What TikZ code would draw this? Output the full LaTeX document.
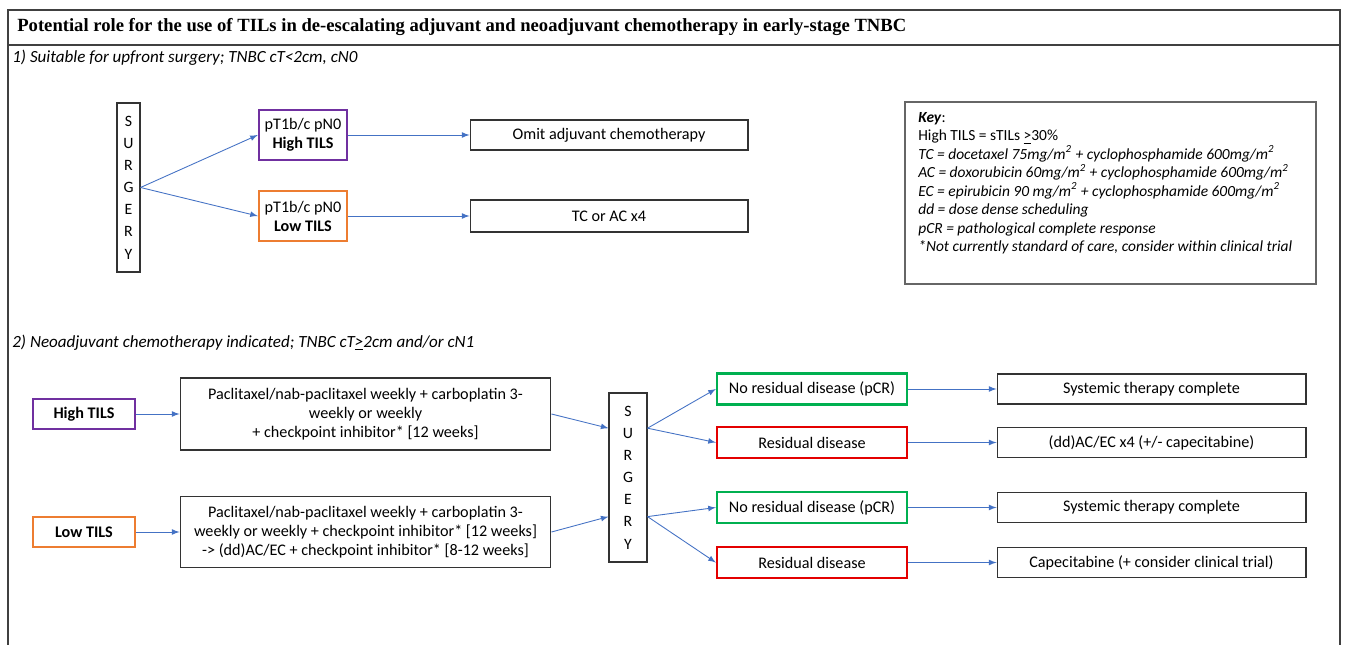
\documentclass[tikz,border=0pt]{standalone}
\usepackage{fontspec}
\setmainfont{Carlito}
\newfontfamily\titlefont{Liberation Serif}
\usepackage{tikz}
\usetikzlibrary{arrows}
\usetikzlibrary{positioning}
\usetikzlibrary{calc}
\definecolor{tilpurple}{RGB}{112,48,160}
\definecolor{tilorange}{RGB}{237,125,49}
\definecolor{pcrgreen}{RGB}{0,176,80}
\definecolor{rdred}{RGB}{228,0,0}
\definecolor{linkblue}{RGB}{68,114,196}
\newcommand\surgerytext{S\\U\\R\\G\\E\\R\\Y}
\newcommand\geul{\underline{>}}

\begin{document}
\begin{tikzpicture}[
x=0.02cm, y=-0.02cm,
>=latex,
plainbox/.style={
  draw=black!80,
  line width=0.6pt,
  inner sep=1pt,
  align=center,
  font=\fontsize{9.2}{10.8}\selectfont},
hibox/.style={plainbox,draw=tilpurple,line width=1.4pt},
lobox/.style={plainbox,draw=tilorange,line width=1.4pt},
pcrbox/.style={plainbox,draw=pcrgreen,line width=1.4pt},
rdbox/.style={plainbox,draw=rdred,line width=1.4pt},
surgbox/.style={plainbox,font=\fontsize{9}{12.6}\selectfont},
subhead/.style={anchor=base west,font=\fontsize{9.7}{11}\selectfont\itshape},
link/.style={->,draw=linkblue,line width=0.5pt}
]
\useasboundingbox (0,0) rectangle (1346,645);
% frame and title
\draw[black!75,line width=1.2pt] (8,10) rectangle (1340,700);
\draw[black!75,line width=1.2pt] (8,45) -- (1340,45);
\node[anchor=base west,inner sep=0pt] (title) at (17,32)
  {\titlefont\bfseries\fontsize{10.6}{12}\selectfont Potential role for the use of TILs in de-escalating adjuvant and neoadjuvant chemotherapy in early-stage TNBC};

% 1) upfront surgery
\node[subhead,inner sep=0pt] (head1) at (12,63) {1) Suitable for upfront surgery; TNBC cT<2cm, cN0};
\node[surgbox,minimum width=0.46cm,minimum height=3.38cm] (surg1) at (128.5,187.5) {\surgerytext};
\node[hibox,minimum width=1.76cm,minimum height=1cm] (hi1) at (303,135) {pT1b/c pN0\\\textbf{High TILS}};
\node[lobox,minimum width=1.76cm,minimum height=1cm] (lo1) at (303,216) {pT1b/c pN0\\\textbf{Low TILS}};
\node[plainbox,minimum width=5.56cm,minimum height=0.6cm] (omit) at (609,135) {Omit adjuvant chemotherapy};
\node[plainbox,minimum width=5.56cm,minimum height=0.64cm] (tcac) at (609,216) {TC or AC x4};
\draw [link] (surg1.east) -- (hi1.west);
\draw [link] (surg1.east) -- (lo1.west);
\draw [link] (hi1) -- (omit);
\draw [link] (lo1) -- (tcac);

% key
\node[draw=black!60,line width=0.8pt,minimum width=8.22cm,minimum height=3.64cm] (key) at (1110.5,193) {};
\node[anchor=north west,align=left,inner sep=0pt,font=\fontsize{8.8}{10.5}\selectfont] (keytext) at (918,112)
  {\textbf{\textit{Key}}:\\
   High TILS = sTILs \geul30\%\\
   \textit{TC = docetaxel 75mg/m\textsuperscript{2} + cyclophosphamide 600mg/m\textsuperscript{2}}\\
   \textit{AC = doxorubicin 60mg/m\textsuperscript{2} + cyclophosphamide 600mg/m\textsuperscript{2}}\\
   \textit{EC = epirubicin 90 mg/m\textsuperscript{2} + cyclophosphamide 600mg/m\textsuperscript{2}}\\
   \textit{dd = dose dense scheduling}\\
   \textit{pCR = pathological complete response}\\
   \textit{*Not currently standard of care, consider within clinical trial}};

% 2) neoadjuvant
\node[subhead,inner sep=0pt] (head2) at (12,347) {2) Neoadjuvant chemotherapy indicated; TNBC cT\geul2cm and/or cN1};
\node[hibox,minimum width=2.04cm,minimum height=0.6cm] (hi2) at (84,414) {\textbf{High TILS}};
\node[lobox,minimum width=2.04cm,minimum height=0.6cm] (lo2) at (84,532) {\textbf{Low TILS}};
\node[plainbox,minimum width=7.42cm,minimum height=1.44cm] (chemo1) at (365.5,414)
  {Paclitaxel/nab-paclitaxel weekly + carboplatin 3-\\weekly or weekly\\+ checkpoint inhibitor* [12 weeks]};
\node[plainbox,minimum width=7.42cm,minimum height=1.42cm] (chemo2) at (365.5,532)
  {Paclitaxel/nab-paclitaxel weekly + carboplatin 3-\\weekly or weekly + checkpoint inhibitor* [12 weeks]\\-> (dd)AC/EC + checkpoint inhibitor* [8-12 weeks]};
\node[surgbox,minimum width=0.76cm,minimum height=3.38cm] (surg2) at (628,477.5) {\surgerytext};
\coordinate (s2inhi) at ($(surg2.north west)!0.21!(surg2.south west)$);
\coordinate (s2inlo) at ($(surg2.north west)!0.73!(surg2.south west)$);
\coordinate (s2outhi) at ($(surg2.north east)!0.21!(surg2.south east)$);
\coordinate (s2outlo) at ($(surg2.north east)!0.73!(surg2.south east)$);
\node[pcrbox,minimum width=3.8cm,minimum height=0.62cm] (pcr1) at (812,389) {No residual disease (pCR)};
\node[rdbox,minimum width=3.8cm,minimum height=0.62cm] (rd1) at (812,442.5) {Residual disease};
\node[pcrbox,minimum width=3.8cm,minimum height=0.62cm] (pcr2) at (812,507.5) {No residual disease (pCR)};
\node[rdbox,minimum width=3.8cm,minimum height=0.62cm] (rd2) at (812,562.5) {Residual disease};
\node[plainbox,minimum width=6.18cm,minimum height=0.6cm] (done1) at (1151.5,389) {Systemic therapy complete};
\node[plainbox,minimum width=6.18cm,minimum height=0.6cm] (acec) at (1151.5,442.5) {(dd)AC/EC x4 (+/- capecitabine)};
\node[plainbox,minimum width=6.18cm,minimum height=0.6cm] (done2) at (1151.5,507.5) {Systemic therapy complete};
\node[plainbox,minimum width=6.18cm,minimum height=0.6cm] (cape) at (1151.5,562.5) {Capecitabine (+ consider clinical trial)};
\draw [link] (hi2) -- (chemo1);
\draw [link] (lo2) -- (chemo2);
\draw [link] (chemo1.east) -- (s2inhi);
\draw [link] (chemo2.east) -- (s2inlo);
\draw [link] (s2outhi) -- (pcr1.west);
\draw [link] (s2outhi) -- (rd1.west);
\draw [link] (s2outlo) -- (pcr2.west);
\draw [link] (s2outlo) -- (rd2.west);
\draw [link] (pcr1) -- (done1);
\draw [link] (rd1) -- (acec);
\draw [link] (pcr2) -- (done2);
\draw [link] (rd2) -- (cape);
\end{tikzpicture}
\end{document}
